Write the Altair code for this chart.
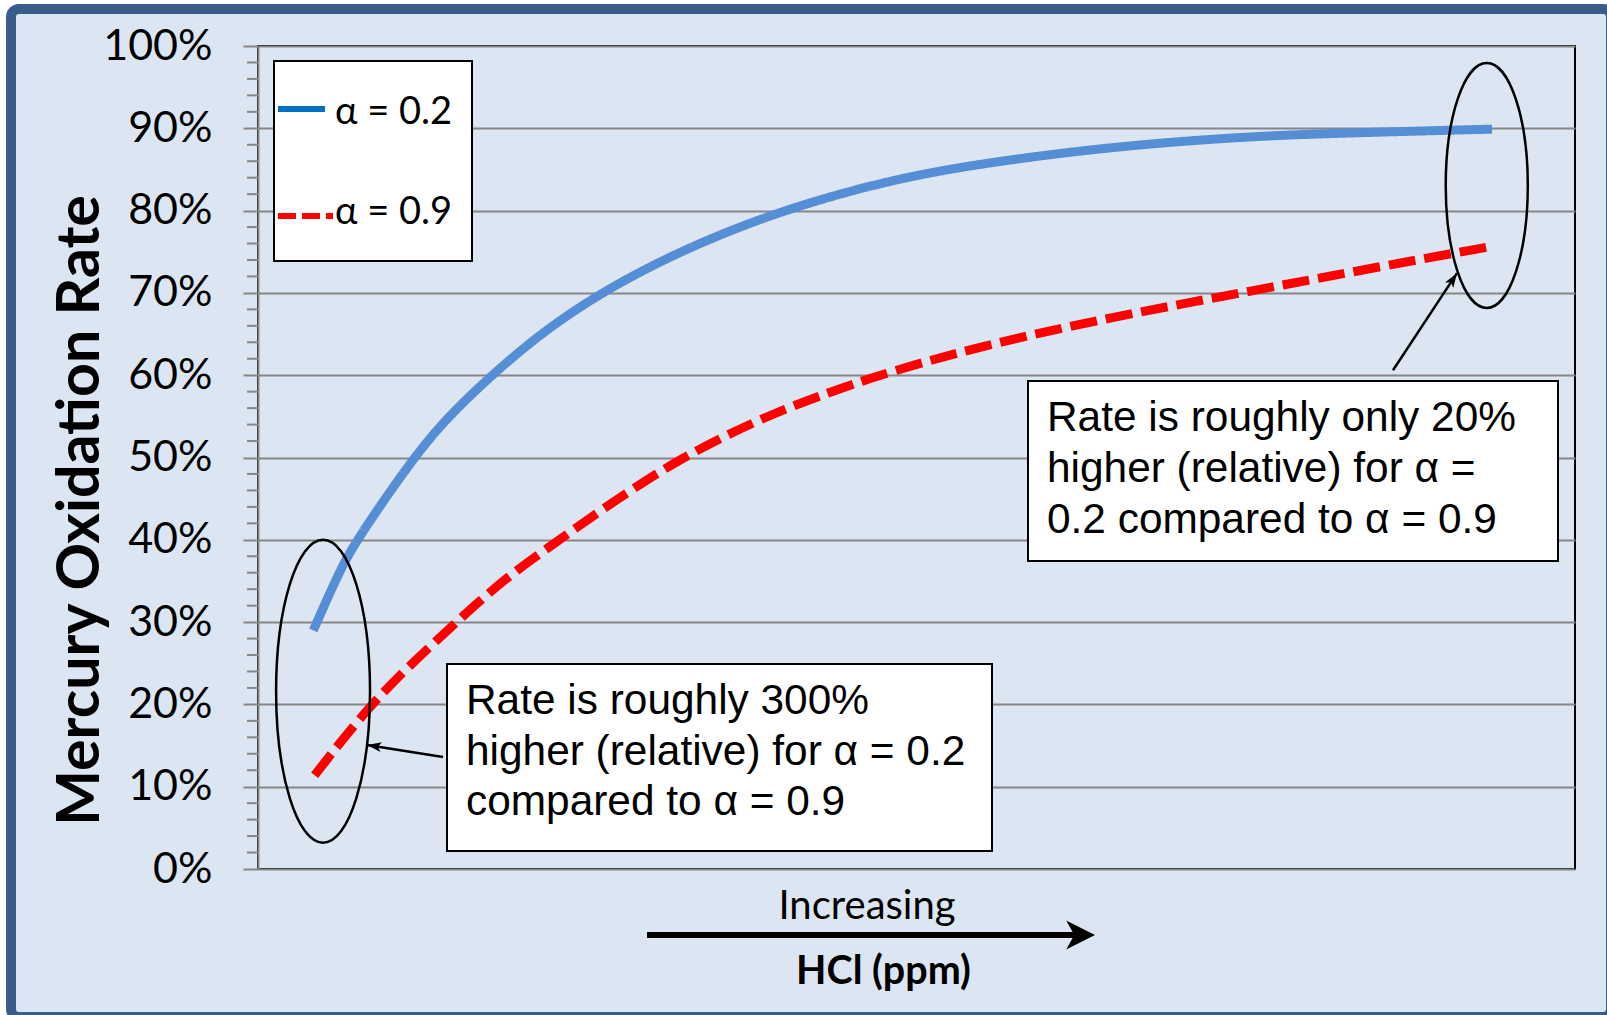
import altair as alt
import pandas as pd

# ---------------- data ----------------
series_names = ["α = 0.2", "α = 0.9"]
series_colors = ["#558ED5", "#FF0000"]
legend_colors = ["#0070C0", "#FF0000"]

blue_x = [4.2, 5.0, 6.23, 7.49, 11.8, 14.45, 17.74, 21.4, 25.97, 32.0, 39.6, 47.9, 54.7, 64.9, 75.0, 81.8, 93.7]
blue_y = [29.0, 31.9, 36.3, 40.0, 50.0, 55.0, 60.0, 65.0, 70.0, 75.1, 80.0, 83.7, 85.7, 87.8, 89.0, 89.4, 89.9]
red_x = [4.3, 8.75, 13.3, 16.9, 19.6, 22.9, 25.5, 32.0, 38.6, 41.2, 46.2, 54.7, 64.9, 75.0, 85.2, 93.5]
red_y = [11.4, 20.5, 27.4, 32.7, 36.3, 40.0, 43.0, 50.0, 55.0, 56.6, 59.6, 63.5, 67.1, 70.1, 73.2, 75.6]

y_ticks = [0, 10, 20, 30, 40, 50, 60, 70, 80, 90, 100]
minor_ticks = [2, 4, 6, 8, 12, 14, 16, 18, 22, 24, 26, 28, 32, 34, 36, 38, 42, 44, 46, 48,
               52, 54, 56, 58, 62, 64, 66, 68, 72, 74, 76, 78, 82, 84, 86, 88, 92, 94, 96, 98]

y_title = "Mercury Oxidation Rate"
x_title = "HCl (ppm)"
x_note = "Increasing"

note_low = ["Rate is roughly 300%", "higher (relative) for α = 0.2", "compared to α = 0.9"]
note_high = ["Rate is roughly only 20%", "higher (relative) for α =", "0.2 compared to α = 0.9"]

# ellipse centres (data units) and arrow endpoints
ell_x = [4.94, 93.3]
ell_y = [21.6, 83.05]
arr_x = [14.05, 86.18]
arr_y = [13.6, 60.6]
arr_x2 = [8.28, 91.04]
arr_y2 = [15.07, 72.4]
arr_angle = [279, 33.4]

# ---------------- chart ----------------
W, H = 1317, 823
BG = "#DCE6F2"
GRID = "#868686"

one = pd.DataFrame({"a": [0]})

lines_df = pd.concat([
    pd.DataFrame({"series": series_names[0], "x": blue_x, "y": blue_y}),
    pd.DataFrame({"series": series_names[1], "x": red_x, "y": red_y}),
])

xs = alt.Scale(domain=[0, 100])
ys = alt.Scale(domain=[0, 100])

# outer white margin and blue frame
white_margin = alt.Chart(one).mark_rect(fill=None, stroke="white", strokeWidth=20, cornerRadius=23).encode(
    x=alt.value(-262), x2=alt.value(1368), y=alt.value(-52), y2=alt.value(986))
frame = alt.Chart(one).mark_rect(fill=None, stroke="#385D8A", strokeWidth=10, cornerRadius=8).encode(
    x=alt.value(-247), x2=alt.value(1353), y=alt.value(-37), y2=alt.value(971))

minor = alt.Chart(pd.DataFrame({"v": minor_ticks})).mark_rule(color=GRID, strokeWidth=2).encode(
    y=alt.Y("v:Q", scale=ys),
    x=alt.value(-11), x2=alt.value(0))

lines = alt.Chart(lines_df).mark_line(strokeWidth=9, strokeCap="butt", interpolate="basis").encode(
    x=alt.X("x:Q", scale=xs, axis=alt.Axis(labels=False, ticks=False, domain=False, grid=False,
                                            title=x_title, titleFont="Lato", titleFontSize=39.5,
                                            titleFontWeight="bold", titleColor="black",
                                            titleX=625, titleY=102, titleAlign="center",
                                            titleBaseline="middle")),
    y=alt.Y("y:Q", scale=ys, axis=alt.Axis(values=y_ticks, labelExpr="datum.value + '%'",
                                            tickSize=15, tickColor=GRID, tickWidth=2,
                                            domainColor=GRID, domainWidth=2,
                                            gridColor=GRID, gridWidth=2,
                                            labelFont="Lato", labelFontSize=43, labelColor="black",
                                            labelPadding=31,
                                            title=y_title, titleFont="Lato", titleFontSize=59,
                                            titleFontWeight="bold", titleColor="black",
                                            titleAngle=270, titleX=-178, titleY=464,
                                            titleAlign="center", titleBaseline="middle")),
    color=alt.Color("series:N", scale=alt.Scale(domain=series_names, range=series_colors), legend=None),
    strokeDash=alt.StrokeDash("series:N", scale=alt.Scale(domain=series_names, range=[[1, 0], [27, 9]]),
                              legend=None),
    order=alt.Order("x:Q"),
)

layers = [white_margin, frame, minor, lines]

# ellipses
ell_shapes = ["M 0 -1 A 0.31 1 0 1 1 0 1 A 0.31 1 0 1 1 0 -1 Z",
              "M 0 -1 A 0.335 1 0 1 1 0 1 A 0.335 1 0 1 1 0 -1 Z"]
ell_sizes = [303 ** 2, 245 ** 2]
for i in range(2):
    layers.append(
        alt.Chart(pd.DataFrame({"x": [ell_x[i]], "y": [ell_y[i]]})).mark_point(
            shape=ell_shapes[i], size=ell_sizes[i], filled=False, stroke="black", strokeWidth=2.5, opacity=1
        ).encode(x=alt.X("x:Q", scale=xs), y=alt.Y("y:Q", scale=ys)))

# legend (manual, boxed)
layers.append(alt.Chart(one).mark_rect(fill="white", stroke="black", strokeWidth=2).encode(
    x=alt.value(16), x2=alt.value(214), y=alt.value(15), y2=alt.value(215)))
legend_line_y = [63, 170]
legend_text_y = [67, 167]
legend_dash = [[1, 0], [18, 6]]
legend_len = [67, 75]
for i in range(2):
    layers.append(alt.Chart(one).mark_rule(color=legend_colors[i], strokeWidth=6, strokeDash=legend_dash[i],
                                           strokeCap="butt").encode(
        x=alt.value(20), x2=alt.value(legend_len[i]), y=alt.value(legend_line_y[i])))
    layers.append(alt.Chart(one).mark_text(text=series_names[i], font="Lato", fontSize=38, align="left",
                                           baseline="middle", color="black").encode(
        x=alt.value(77), y=alt.value(legend_text_y[i])))

# annotation boxes
layers.append(alt.Chart(one).mark_rect(fill="white", stroke="black", strokeWidth=2).encode(
    x=alt.value(189), x2=alt.value(734), y=alt.value(618), y2=alt.value(805)))
layers.append(alt.Chart(one).mark_text(text=note_low, font="Liberation Sans", fontSize=42.4, align="left",
                                       baseline="middle", lineHeight=50.5, color="black").encode(
    x=alt.value(208), y=alt.value(655)))
layers.append(alt.Chart(one).mark_rect(fill="white", stroke="black", strokeWidth=2).encode(
    x=alt.value(770), x2=alt.value(1300), y=alt.value(335), y2=alt.value(515)))
layers.append(alt.Chart(one).mark_text(text=note_high, font="Liberation Sans", fontSize=42.4, align="left",
                                       baseline="middle", lineHeight=51, color="black").encode(
    x=alt.value(789), y=alt.value(372)))

# annotation arrows
arr_df = pd.DataFrame({"x": arr_x, "y": arr_y, "x2": arr_x2, "y2": arr_y2, "ang": arr_angle})
layers.append(alt.Chart(arr_df).mark_rule(color="black", strokeWidth=2.5).encode(
    x=alt.X("x:Q", scale=xs), y=alt.Y("y:Q", scale=ys), x2="x2:Q", y2="y2:Q"))
layers.append(alt.Chart(arr_df).mark_point(shape="M0,0 L-0.55,1.6 L0,1.2 L0.55,1.6 Z", size=324,
                                           filled=True, color="black", opacity=1).encode(
    x=alt.X("x2:Q", scale=xs), y=alt.Y("y2:Q", scale=ys), angle=alt.Angle("ang:Q", scale=None)))

# bottom "Increasing" arrow
layers.append(alt.Chart(one).mark_rule(color="black", strokeWidth=6).encode(
    x=alt.value(389), x2=alt.value(826), y=alt.value(889)))
layers.append(alt.Chart(one).mark_point(shape="M0,0 L-0.8,1.6 L0,1.15 L0.8,1.6 Z", size=1296, angle=90,
                                        filled=True, color="black", opacity=1).encode(
    x=alt.value(837), y=alt.value(889)))
layers.append(alt.Chart(one).mark_text(text=x_note, font="Lato", fontSize=40, align="center",
                                       baseline="middle", color="black").encode(
    x=alt.value(609), y=alt.value(861)))

chart = alt.layer(*layers).properties(
    width=W, height=H,
    autosize="none",
    padding={"left": 258, "top": 46, "right": 32, "bottom": 146},
    background=BG,
).configure_view(stroke="black", strokeWidth=2, fill=BG)

chart.save("out.html", embed_options={"renderer": "svg", "actions": False})
